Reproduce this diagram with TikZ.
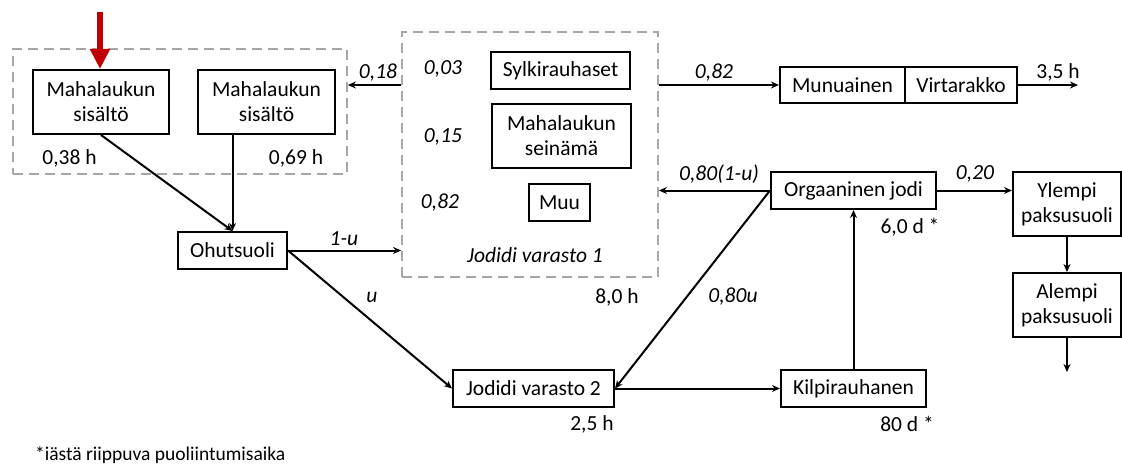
\documentclass[tikz,border=0pt]{standalone}
\usepackage{fontspec}
\setmainfont{Carlito}
\usetikzlibrary{arrows.meta}
\definecolor{grpgray}{HTML}{A6A6A6}
\definecolor{redarr}{HTML}{C00000}
\begin{document}
\begin{tikzpicture}[x=1pt,y=-1pt,
 box/.style={draw,line width=2pt,inner sep=0pt,align=center,font=\fontsize{21.5}{25}\selectfont},
 lbl/.style={font=\fontsize{21.5}{25}\selectfont\itshape,inner sep=0pt},
 num/.style={font=\fontsize{21.5}{25}\selectfont,inner sep=0pt},
 arr/.style={line width=2pt,-{Stealth[length=8pt,width=7pt]}},
 grp/.style={draw=grpgray,dash pattern=on 10pt off 6pt,line width=1.8pt,inner sep=0pt}]
\useasboundingbox (0,0) rectangle (1122,468);
% groups
\node[grp,minimum width=334pt,minimum height=125pt] (g1) at (180,111.5) {};
\node[grp,minimum width=256pt,minimum height=245pt] (g2) at (530,154.5) {};
% boxes
\node[box,minimum width=136pt,minimum height=64pt] (A) at (101,102) {Mahalaukun\\sisältö};
\node[box,minimum width=137pt,minimum height=64pt] (B) at (266.5,102) {Mahalaukun\\sisältö};
\node[box,minimum width=109pt,minimum height=37pt] (ohut) at (232.5,250.5) {Ohutsuoli};
\node[box,minimum width=139pt,minimum height=37pt] (syl) at (560.5,70.5) {Sylkirauhaset};
\node[box,minimum width=139pt,minimum height=64pt] (sein) at (561.5,136) {Mahalaukun\\seinämä};
\node[box,minimum width=61pt,minimum height=37pt] (muu) at (559.5,202.5) {Muu};
\node[box,minimum width=125pt,minimum height=36pt] (mun) at (842.5,85) {Munuainen};
\node[box,minimum width=112pt,minimum height=36pt] (vir) at (961,85) {Virtarakko};
\node[box,minimum width=165pt,minimum height=37pt] (org) at (853.5,190.5) {Orgaaninen jodi};
\node[box,minimum width=108pt,minimum height=64pt] (ylem) at (1067,204) {Ylempi\\paksusuoli};
\node[box,minimum width=108pt,minimum height=64pt] (alem) at (1067,305) {Alempi\\paksusuoli};
\node[box,minimum width=145pt,minimum height=37pt] (kilp) at (853.5,388.5) {Kilpirauhanen};
\node[box,minimum width=161pt,minimum height=37pt] (j2) at (533.5,388.5) {Jodidi varasto 2};
% free ends
\coordinate (redstart) at (100,12);
\coordinate (virend) at (1078,85);
\coordinate (alemend) at (1067,372);
% connectors
\draw[redarr,line width=6pt,-{Triangle[length=20pt,width=19pt]}] (redstart) -- (redstart |- A.north);
\draw[arr] (A.south) -- (ohut.north);
\draw[arr] (ohut.north |- B.south) -- (ohut.north);
\draw[arr] (ohut.east) -- (g2.west |- ohut.east);
\draw[arr] (ohut.east) -- (j2.west);
\draw[arr] (g2.west |- mun.west) -- (g1.east |- mun.west);
\draw[arr] (g2.east |- mun.west) -- (mun.west);
\draw[arr] (vir.east) -- (virend);
\draw[arr] (org.west) -- (g2.east |- org.west);
\draw[arr] (org.east) -- (ylem.west |- org.east);
\draw[arr] (ylem.south) -- (alem.north);
\draw[arr] (alem.south) -- (alemend);
\draw[arr] (kilp.north) -- (org.south);
\draw[arr] (org.west) -- (j2.east);
\draw[arr] (j2.east) -- (kilp.west);
% labels
\node[num] (t038) at (69.5,158) {0,38 h};
\node[num] (t069) at (296,158) {0,69 h};
\node[num] (t80h) at (617,297) {8,0 h};
\node[num] (t25h) at (592,424) {2,5 h};
\node[num] (t60d) at (910,227) {6,0 d *};
\node[num] (t80d) at (907,424) {80 d *};
\node[num] (t35h) at (1058,72) {3,5 h};
\node[lbl] (f003) at (443,69) {0,03};
\node[lbl] (f015) at (443,137) {0,15};
\node[lbl] (f082) at (440,203) {0,82};
\node[lbl] (jv1) at (535,255) {Jodidi varasto 1};
\node[lbl] (f018) at (378,73) {0,18};
\node[lbl] (f082b) at (714,73) {0,82};
\node[lbl] (f080a) at (719,174) {0,80(1-u)};
\node[lbl] (f020) at (975,174) {0,20};
\node[lbl] (f080u) at (733,297) {0,80u};
\node[lbl] (f1u) at (344,239) {1-u};
\node[lbl] (fu) at (372,297) {u};
\node[font=\fontsize{19.5}{23}\selectfont,inner sep=0pt,anchor=west] (note) at (35,455) {*iästä riippuva puoliintumisaika};
\end{tikzpicture}
\end{document}
